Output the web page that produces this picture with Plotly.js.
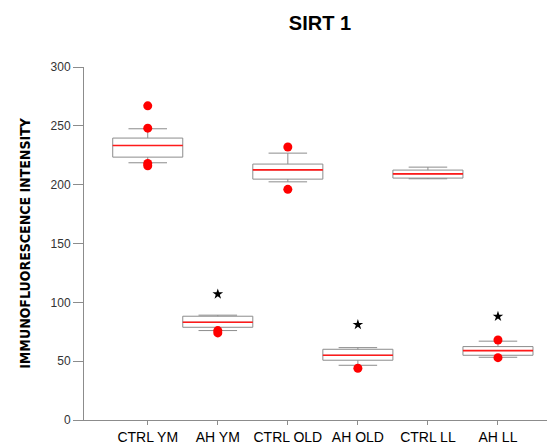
<!DOCTYPE html>
<html>
<head>
<meta charset="utf-8">
<script src="https://cdn.plot.ly/plotly-3.0.1.min.js"></script>
<style>html,body{margin:0;padding:0;background:#fff;}#chart{width:547px;height:446px;}</style>
</head>
<body>
<div id="chart"></div>
<script>
// ---- data ----
const categories = ["CTRL YM", "AH YM", "CTRL OLD", "AH OLD", "CTRL LL", "AH LL"];
const q1Values     = [223.4, 78.8, 204.7, 50.8, 205.6, 55.0];
const medianValues = [233.3, 83.1, 212.6, 55.0, 209.2, 59.0];
const q3Values     = [239.6, 88.2, 217.5, 60.1, 212.4, 62.4];
const lowerWhisker = [218.6, 76.0, 202.4, 46.5, 205.0, 53.3];
const upperWhisker = [247.5, 89.1, 226.8, 61.5, 214.9, 67.0];
// outliers: category index and value
const outlierCat   = [0, 0, 0, 0, 1, 1, 2, 2, 3, 5, 5];
const outlierVal   = [267, 248, 218, 216, 76, 74, 232, 196, 44, 68, 53];
// significance stars
const starCat      = [1, 3, 5];
const starVal      = [107, 81, 88];
const yTickVals    = [0, 50, 100, 150, 200, 250, 300];

const idx = categories.map((c, i) => i);

const boxTrace = {
  type: "box",
  x: idx,
  q1: q1Values,
  median: medianValues,
  q3: q3Values,
  lowerfence: lowerWhisker,
  upperfence: upperWhisker,
  width: 1,
  whiskerwidth: 0.55,
  boxpoints: false,
  fillcolor: "#ffffff",
  line: {color: "#8c8c8c", width: 1},
  hoverinfo: "skip"
};

const medX = [], medY = [];
idx.forEach(i => { medX.push(i - 0.5, i + 0.5, null); medY.push(medianValues[i], medianValues[i], null); });
const medianTrace = {
  type: "scatter", mode: "lines", x: medX, y: medY,
  line: {color: "#ff1a1a", width: 1.6}, hoverinfo: "skip"
};

const outlierTrace = {
  type: "scatter", mode: "markers", x: outlierCat, y: outlierVal,
  marker: {color: "#ff0000", size: 9, line: {width: 0}}, hoverinfo: "skip"
};

const starTrace = {
  type: "scatter", mode: "markers", x: starCat, y: starVal,
  marker: {color: "#000000", symbol: "star", size: 8, line: {width: 0}}, hoverinfo: "skip"
};

const layout = {
  width: 547, height: 446,
  margin: {l: 84, r: 0, t: 67, b: 26},
  paper_bgcolor: "#ffffff", plot_bgcolor: "#ffffff",
  showlegend: false,
  font: {family: "Arial, 'Liberation Sans', sans-serif", color: "#000"},
  title: {
    text: "<b>SIRT 1</b>",
    font: {family: "Arial, 'Liberation Sans', sans-serif", size: 20, color: "#000"},
    x: 0.585, xanchor: "center", y: 0.948, yanchor: "middle"
  },
  xaxis: {
    range: [-0.91, 5.7],
    tickmode: "array", tickvals: idx, ticktext: categories,
    showgrid: false, zeroline: false,
    showline: true, linecolor: "#8c8c8c", linewidth: 1,
    ticks: "outside", ticklen: 4, tickcolor: "#8c8c8c",
    tickfont: {size: 14, color: "#000"}
  },
  yaxis: {
    range: [0, 300],
    tickmode: "array", tickvals: yTickVals,
    showgrid: false, zeroline: false,
    showline: true, linecolor: "#8c8c8c", linewidth: 1,
    ticks: "outside", ticklen: 10, tickcolor: "#8c8c8c",
    tickfont: {size: 12, color: "#333"},
    title: {
      text: "<b>IMMUNOFLUORESCENCE INTENSITY</b>",
      font: {family: "'Liberation Sans Narrow', 'Arial Narrow', 'DejaVu Sans Condensed', sans-serif", size: 14, color: "#000"},
      standoff: 16
    }
  }
};

Plotly.newPlot("chart", [boxTrace, medianTrace, outlierTrace, starTrace], layout, {staticPlot: true, displayModeBar: false});
</script>
</body>
</html>
